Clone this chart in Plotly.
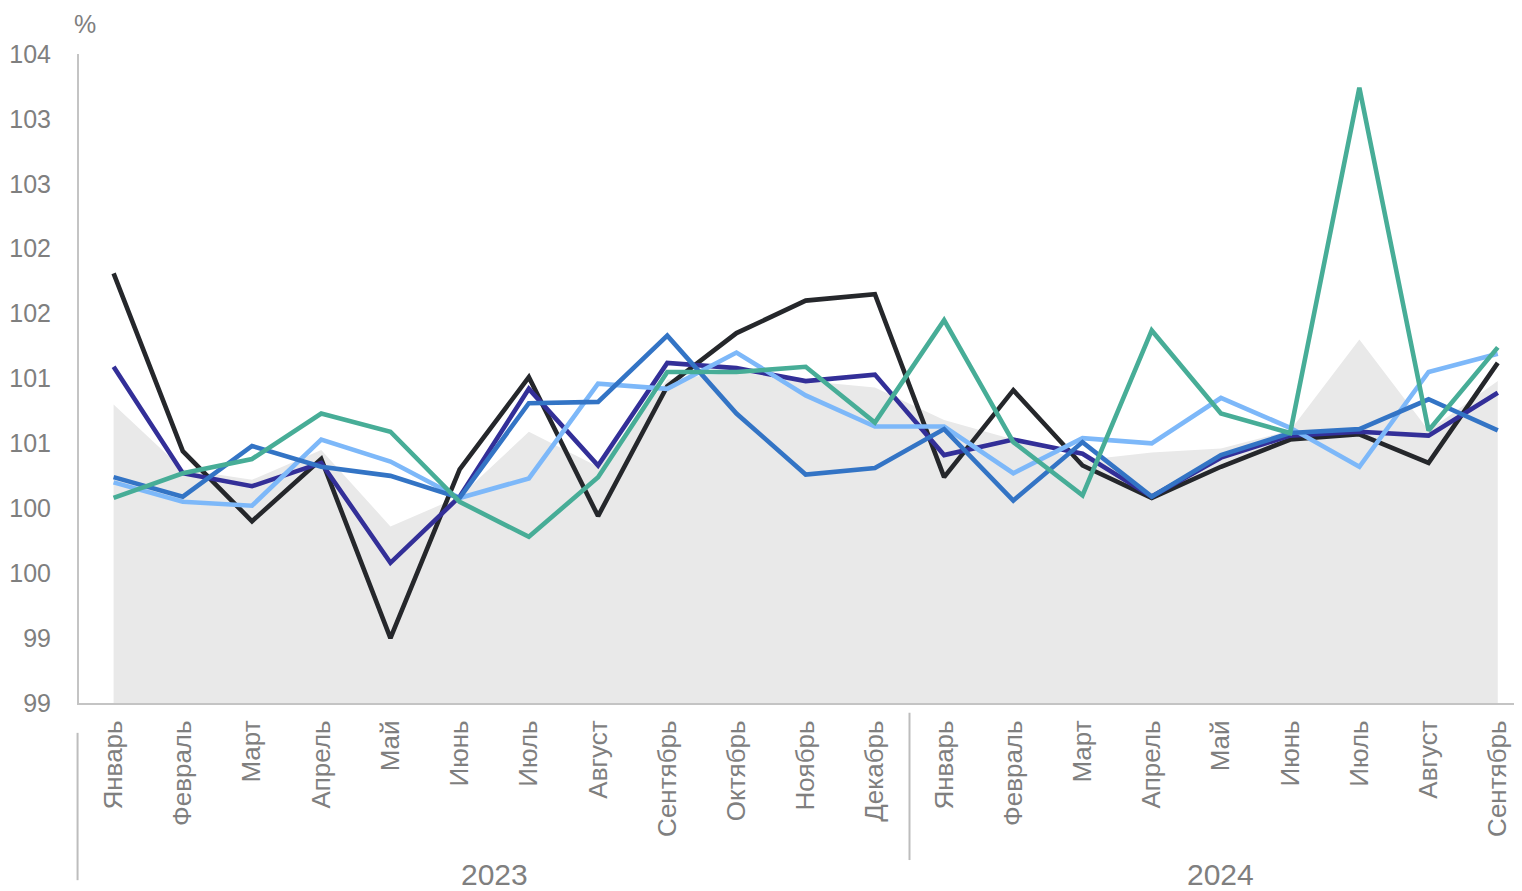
import plotly.graph_objects as go

months = ["Январь", "Февраль", "Март", "Апрель", "Май", "Июнь", "Июль", "Август",
          "Сентябрь", "Октябрь", "Ноябрь", "Декабрь",
          "Январь", "Февраль", "Март", "Апрель", "Май", "Июнь", "Июль", "Август", "Сентябрь"]
years = ["2023"] * 12 + ["2024"] * 9
year_labels = ["2023", "2024"]

y_tickvals = [98.5, 99.0, 99.5, 100.0, 100.5, 101.0, 101.5, 102.0, 102.5, 103.0, 103.5]
y_ticktext = ["99", "99", "100", "100", "101", "101", "102", "102", "103", "103", "104"]

area_gray = [100.80, 100.30, 100.22, 100.45, 99.86, 100.09, 100.59, 100.32, 100.99, 101.05,
             100.98, 100.93, 100.68, 100.53, 100.37, 100.43, 100.46, 100.60, 101.30, 100.60, 100.98]
series_black = [101.81, 100.44, 99.90, 100.38, 99.00, 100.30, 101.01, 99.94, 100.94, 101.35,
                101.60, 101.65, 100.24, 100.91, 100.33, 100.08, 100.32, 100.53, 100.57, 100.35, 101.12]
series_purple = [101.09, 100.27, 100.17, 100.35, 99.58, 100.09, 100.92, 100.33, 101.12, 101.08,
                 100.98, 101.03, 100.41, 100.53, 100.42, 100.09, 100.39, 100.56, 100.59, 100.56, 100.89]
series_lightblue = [100.20, 100.05, 100.02, 100.53, 100.36, 100.08, 100.23, 100.96, 100.92, 101.20,
                    100.87, 100.63, 100.63, 100.27, 100.54, 100.50, 100.85, 100.62, 100.32, 101.05, 101.19]
series_blue = [100.24, 100.09, 100.48, 100.32, 100.25, 100.08, 100.81, 100.82, 101.33, 100.73,
               100.26, 100.31, 100.61, 100.06, 100.51, 100.09, 100.41, 100.58, 100.61, 100.84, 100.60]
series_teal = [100.08, 100.27, 100.38, 100.73, 100.59, 100.05, 99.78, 100.24, 101.05, 101.05,
               101.09, 100.66, 101.45, 100.51, 100.10, 101.37, 100.73, 100.58, 103.24, 100.60, 101.24]

x = list(range(len(months)))

TXT = "#7f7f7f"
FONT = "Liberation Sans, Arial, sans-serif"

fig = go.Figure()
fig.add_trace(go.Scatter(x=x, y=area_gray, mode="lines", fill="tozeroy",
                         fillcolor="#e9e9e9", line=dict(width=0, color="#e9e9e9"),
                         hoverinfo="skip", showlegend=False))
for vals, col in [(series_black, "#25272b"), (series_purple, "#332f98"),
                  (series_lightblue, "#7db8f9"), (series_blue, "#3374c5"),
                  (series_teal, "#47ad97")]:
    fig.add_trace(go.Scatter(x=x, y=vals, mode="lines",
                             line=dict(color=col, width=4.6, shape="linear"),
                             showlegend=False))

# year labels centred under their groups
for yl in year_labels:
    idx = [i for i, yy in enumerate(years) if yy == yl]
    center = (idx[0] + idx[-1]) / 2
    fig.add_annotation(x=center, xref="x", y=-0.236, yref="paper", text=yl,
                       showarrow=False, yanchor="top", xanchor="center",
                       font=dict(size=30, color=TXT, family=FONT))

# group dividers
fig.add_shape(type="line", xref="paper", x0=-0.001, x1=-0.001, yref="paper",
              y0=-0.046, y1=-0.273, line=dict(color="#bdbdbd", width=2))
boundary = years.index("2024") - 0.5
fig.add_shape(type="line", xref="x", x0=boundary, x1=boundary, yref="paper",
              y0=-0.015, y1=-0.242, line=dict(color="#bdbdbd", width=2))

fig.add_annotation(x=0.004, xref="paper", y=1.0705, yref="paper", text="%",
                   showarrow=False, xanchor="center", yanchor="top",
                   font=dict(size=25, color=TXT, family=FONT))

fig.update_layout(
    width=1514, height=883,
    margin=dict(l=71, r=0, t=46, b=188),
    paper_bgcolor="white", plot_bgcolor="white",
    font=dict(family=FONT, color=TXT),
)
fig.update_xaxes(
    automargin=False,
    range=[-0.5, 20.35], tickmode="array", tickvals=x, ticktext=months,
    tickangle=-90, tickfont=dict(size=26, color=TXT, family=FONT),
    showgrid=False, zeroline=False, showline=True, linecolor="#c4c4c4", linewidth=2,
    ticks="outside", ticklen=5, tickcolor="rgba(0,0,0,0)",
)
fig.update_yaxes(
    automargin=False,
    range=[98.5, 103.5], tickmode="array", tickvals=y_tickvals, ticktext=y_ticktext,
    tickfont=dict(size=25, color=TXT, family=FONT),
    showgrid=False, zeroline=False, showline=True, linecolor="#c4c4c4", linewidth=2,
    ticks="outside", ticklen=21, tickcolor="rgba(0,0,0,0)",
)

fig.write_html("out.html")
